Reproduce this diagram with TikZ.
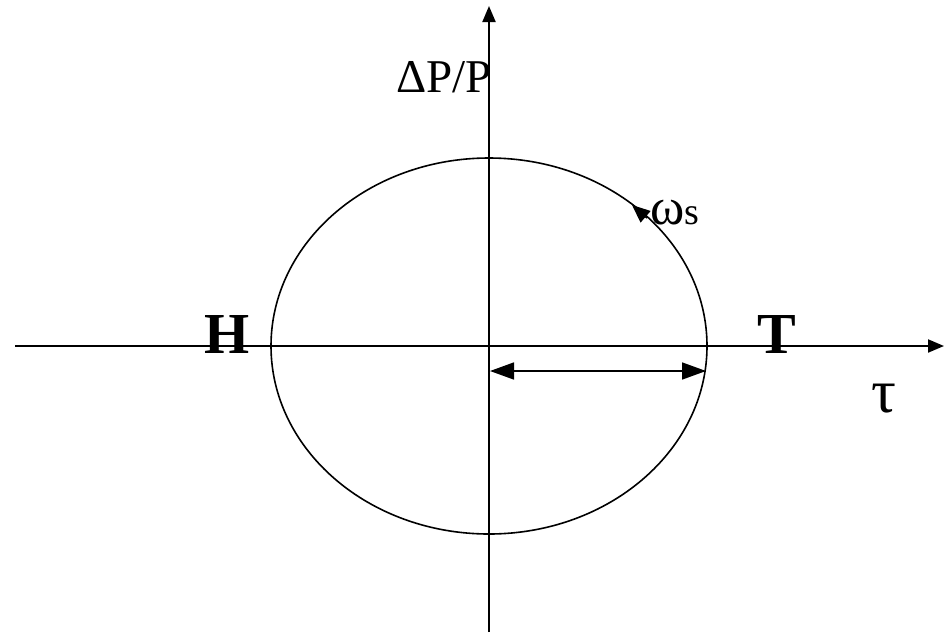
\documentclass[tikz,border=0pt]{standalone}
\usepackage{fontspec}
\setmainfont{Liberation Serif}
\newfontfamily\tnr{Liberation Serif}
\usetikzlibrary{arrows.meta}
\begin{document}
\begin{tikzpicture}[x=1pt,y=-1pt,
  axis/.style={line width=2pt,-{Triangle[length=16pt,width=13pt]}},
  curve/.style={line width=1.6pt},
  lbl/.style={inner sep=0pt,anchor=base west}]
\useasboundingbox (0,0) rectangle (944,635);
\coordinate (O) at (489,346);
\coordinate (xl) at (15,346);
\coordinate (xr) at (944,346);
\coordinate (yb) at (489,632);
\coordinate (yt) at (489,6);
\draw[axis] (xl) -- (xr);
\draw[axis] (yb) -- (yt);
\draw[curve] (O) ellipse [x radius=218, y radius=188];
\coordinate (wa) at (647,218);
\coordinate (wb) at (632,205);
\draw[line width=1.6pt,-{Triangle[length=18pt,width=15pt]}] (wa) -- (wb);
\coordinate (da) at (490,371);
\coordinate (db) at (706,371);
\draw[line width=1.6pt,{Triangle[length=24pt,width=17pt]}-{Triangle[length=24pt,width=17pt]}] (da) -- (db);
\node[lbl] (dp) at (396,92) {\tnr\fontsize{47}{50}\selectfont ΔP/P};
\node[lbl] (H) at (204,353) {\tnr\bfseries\fontsize{58}{60}\selectfont H};
\node[lbl] (T) at (757,353) {\tnr\bfseries\fontsize{58}{60}\selectfont T};
\node[lbl] (tau) at (871,412) {\tnr\fontsize{62}{64}\selectfont τ};
\node[lbl] (ws) at (650,224) {\tnr\fontsize{52}{54}\selectfont ω\fontsize{38}{40}\selectfont s};
\end{tikzpicture}
\end{document}
